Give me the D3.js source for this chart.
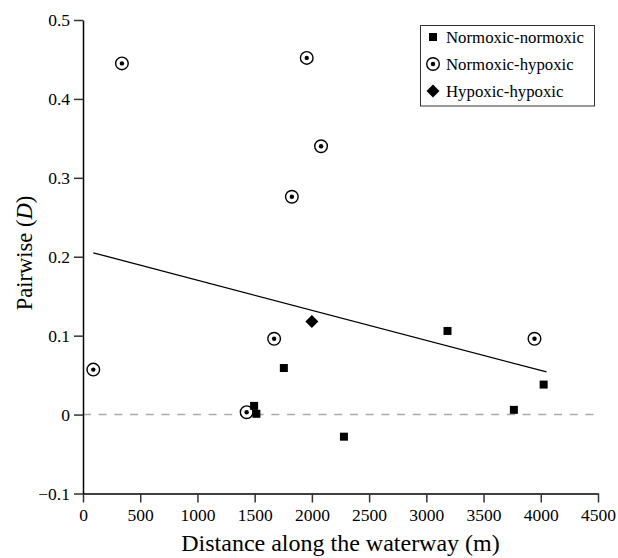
<!DOCTYPE html>
<html>
<head>
<meta charset="utf-8">
<script src="https://cdnjs.cloudflare.com/ajax/libs/d3/7.8.5/d3.min.js"></script>
<style>
  body { margin: 0; background: #fff; }
  svg text { font-family: "Liberation Serif", "DejaVu Serif", "Times New Roman", Times, serif; fill: #000; }
</style>
</head>
<body>
<script>
(function () {

    //data
    var nnDist = [1495, 1515, 1755, 2280, 3185, 3765, 4025];
    var nnD = [0.011, 0.001, 0.059, -0.028, 0.106, 0.006, 0.038];

    var nhDist = [90, 340, 1430, 1670, 1825, 1955, 2080, 3945];
    var nhD = [0.057, 0.445, 0.003, 0.096, 0.276, 0.452, 0.340, 0.096];

    var hhDist = [2000];
    var hhD = [0.118];

    //regression line end points
    var fitDist = [90, 4050];
    var fitD = [0.205, 0.054];

    var xTicks = [0, 500, 1000, 1500, 2000, 2500, 3000, 3500, 4000, 4500];
    var yTicks = [-0.1, 0, 0.1, 0.2, 0.3, 0.4, 0.5];

    var legendLabels = ["Normoxic-normoxic", "Normoxic-hypoxic", "Hypoxic-hypoxic"];

    window.onload = drawChart();

    function drawChart() {
        var width = 618,
            height = 558;

        var margin = { left: 83, right: 20, top: 20, bottom: 64.5 };

        var svg = d3.select("body")
            .append("svg")
            .attr("width", width)
            .attr("height", height);

        var x = d3.scaleLinear()
            .domain([0, 4500])
            .range([margin.left, width - margin.right]);

        var y = d3.scaleLinear()
            .domain([-0.1, 0.5])
            .range([height - margin.bottom, margin.top]);

        //zero reference line
        svg.append("line")
            .attr("x1", x(0))
            .attr("x2", x(4500))
            .attr("y1", y(0))
            .attr("y2", y(0))
            .attr("stroke", "#aaa")
            .attr("stroke-width", 1.5)
            .attr("stroke-dasharray", "8,7.7");

        //axes
        var xAxis = svg.append("g")
            .attr("transform", "translate(0," + y(-0.1) + ")")
            .call(d3.axisBottom(x).tickValues(xTicks).tickSize(9).tickPadding(6).tickSizeOuter(0)
                .tickFormat(d3.format("d")));

        var yAxis = svg.append("g")
            .attr("transform", "translate(" + x(0) + ",0)")
            .call(d3.axisLeft(y).tickValues(yTicks).tickSize(9).tickPadding(4).tickSizeOuter(0)
                .tickFormat(function (d) { return d3.format(".1~f")(d).replace("-", "\u2212"); }));

        [xAxis, yAxis].forEach(function (g) {
            g.attr("font-family", null);
            g.select(".domain").attr("stroke", "#000").attr("stroke-width", 1.5);
            g.selectAll(".tick line").attr("stroke", "#333").attr("stroke-width", 1.5);
            g.selectAll(".tick text")
                .attr("font-size", 17.5)
                .attr("fill", "#000");
        });

        //axis titles
        svg.append("text")
            .attr("x", (x(0) + x(4500)) / 2)
            .attr("y", 551)
            .attr("text-anchor", "middle")
            .attr("font-size", 24)
            .text("Distance along the waterway (m)");

        var yTitle = svg.append("text")
            .attr("transform", "translate(32,253) rotate(-90)")
            .attr("text-anchor", "middle")
            .attr("font-size", 22.5);
        yTitle.append("tspan").text("Pairwise (");
        yTitle.append("tspan").attr("font-style", "italic").text("D");
        yTitle.append("tspan").text(")");

        //regression line
        var fit = fitDist.map(function (d, i) { return [d, fitD[i]]; });
        svg.append("path")
            .datum(fit)
            .attr("fill", "none")
            .attr("stroke", "#000")
            .attr("stroke-width", 1.3)
            .attr("d", d3.line().x(function (d) { return x(d[0]); }).y(function (d) { return y(d[1]); }));

        //markers
        function square(g, cx, cy) {
            g.append("rect")
                .attr("x", cx - 4).attr("y", cy - 4)
                .attr("width", 8).attr("height", 8)
                .attr("fill", "#000");
        }
        function ring(g, cx, cy) {
            g.append("circle")
                .attr("cx", cx).attr("cy", cy).attr("r", 6.3)
                .attr("fill", "#fff").attr("stroke", "#000").attr("stroke-width", 1.4);
            g.append("circle")
                .attr("cx", cx).attr("cy", cy).attr("r", 2.2)
                .attr("fill", "#000");
        }
        function diamond(g, cx, cy) {
            g.append("path")
                .attr("d", "M" + cx + "," + (cy - 6.5) + "L" + (cx + 6.5) + "," + cy +
                    "L" + cx + "," + (cy + 6.5) + "L" + (cx - 6.5) + "," + cy + "Z")
                .attr("fill", "#000");
        }

        var pts = svg.append("g");
        nhDist.forEach(function (d, i) { ring(pts, x(d), y(nhD[i])); });
        nnDist.forEach(function (d, i) { square(pts, x(d), y(nnD[i])); });
        hhDist.forEach(function (d, i) { diamond(pts, x(d), y(hhD[i])); });

        //legend
        var legend = svg.append("g");
        legend.append("rect")
            .attr("x", 420.5).attr("y", 25.5)
            .attr("width", 174).attr("height", 80.5)
            .attr("fill", "#fff")
            .attr("stroke", "#333")
            .attr("stroke-width", 1);

        var markers = [square, ring, diamond];
        legendLabels.forEach(function (label, i) {
            var ly = 37 + i * 27;
            markers[i](legend, 433, ly);
            legend.append("text")
                .attr("x", 446)
                .attr("y", ly + 6)
                .attr("font-size", 16.8)
                .text(label);
        });
    }

})();
</script>
</body>
</html>
